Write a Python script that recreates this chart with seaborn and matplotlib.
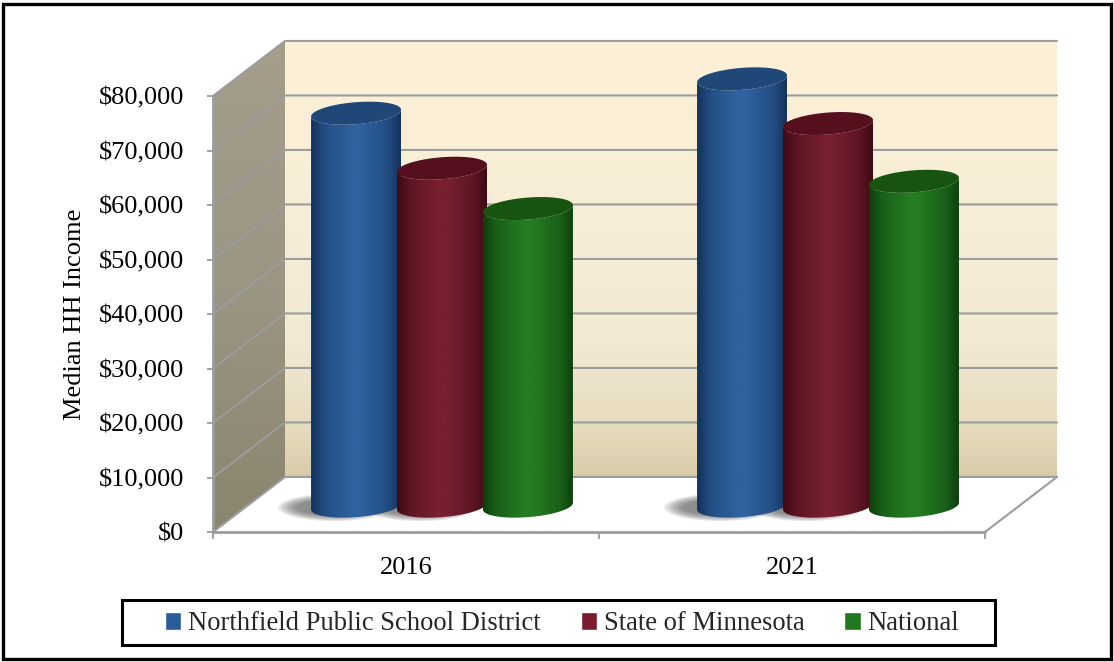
import numpy as np
import pandas as pd
import seaborn as sns
import matplotlib.pyplot as plt
from matplotlib.colors import LinearSegmentedColormap
from matplotlib.patches import Polygon, Rectangle, Ellipse

years = ['2016', '2021']
series_names = ['Northfield Public School District', 'State of Minnesota', 'National']
northfield = [72100, 78400]
minnesota = [62000, 70200]
national = [54600, 59600]
y_ticks = [0, 10000, 20000, 30000, 40000, 50000, 60000, 70000, 80000]
y_labels = ['$0', '$10,000', '$20,000', '$30,000', '$40,000', '$50,000', '$60,000', '$70,000', '$80,000']
legend_colors = ['#2B5C9A', '#7A1C2E', '#1F7A1F']
edge_colors = ['#14325A', '#3E0A14', '#0C400C']
side_colors = ['#234E84', '#5E1523', '#196018']
mid_colors = ['#2F629F', '#77202F', '#257C22']
top_colors = ['#1F4878', '#560F1C', '#17540F']

W, H = 1114, 662
sns.set_theme(style='white', font='Liberation Serif')

raw = pd.DataFrame({'Year': years, series_names[0]: northfield, series_names[1]: minnesota, series_names[2]: national})
data = pd.melt(raw, id_vars='Year', var_name='Series', value_name='Median HH Income')

fig = plt.figure(figsize=(W / 100, H / 100), dpi=100)
# front plane of the fake 3d box, in pixels
ax = fig.add_axes([213 / W, 1 - 532 / H, 772 / W, 436 / H])
sns.barplot(data=data, x='Year', y='Median HH Income', hue='Series', palette=legend_colors, saturation=1,
            width=0.668, ax=ax, zorder=1)

# depth of the box in data units
dx = 72 / 386
dy = 10100
grey = '#9C9C9C'

# back wall
wall_cmap = LinearSegmentedColormap.from_list('wall', [(0, '#D8CBA8'), (0.1, '#E6DABC'), (0.3, '#F1E9D2'),
                                                       (0.55, '#F6EDD8'), (1, '#FEF0D5')])
back = ax.imshow(np.linspace(0, 1, 256)[:, None], origin='lower', cmap=wall_cmap, aspect='auto', zorder=0.1,
                 extent=(-0.5 + dx, 1.5 + dx, dy, 80000 + dy))
back.set_clip_box(fig.bbox)

# left wall
side = Polygon([(-0.5, 0), (-0.5 + dx, dy), (-0.5 + dx, 80000 + dy), (-0.5, 80000)], closed=True,
               fc='none', ec='none', clip_on=False)
ax.add_patch(side)
side_cmap = LinearSegmentedColormap.from_list('side', ['#8B846E', '#9B9583', '#A69D8B'])
im = ax.imshow(np.linspace(0, 1, 256)[:, None], origin='lower', cmap=side_cmap, aspect='auto', zorder=0.1,
               extent=(-0.5, -0.5 + dx, 0, 80000 + dy))
im.set_clip_box(fig.bbox)
im.set_clip_path(side)

# grid lines and box edges
for v in y_ticks:
    ax.plot([-0.5, -0.5 + dx, 1.5 + dx], [v, v + dy, v + dy], color=grey, lw=1.5, zorder=0.3, clip_on=False)
ax.plot([1.5, 1.5 + dx], [0, dy], color=grey, lw=1.5, zorder=0.3, clip_on=False)
ax.plot([-0.5, 1.5], [0, 0], color=grey, lw=2, zorder=0.3, clip_on=False)
ax.plot([-0.5, -0.5], [0, 80000], color=grey, lw=2, zorder=0.3, clip_on=False)

# turn the bars into cylinders
half_w = 45 / 386
b = 11 / 54.5 * 10000
s = 3.4 / 54.5 * 10000
base = dy * 0.47
order = 1.0
for i, container in enumerate(ax.containers):
    shade = LinearSegmentedColormap.from_list('c', [(0, edge_colors[i]), (0.15, side_colors[i]), (0.45, mid_colors[i]),
                                                    (0.55, mid_colors[i]), (0.85, side_colors[i]),
                                                    (1, edge_colors[i])])
    for bar in container:
        bar.set_visible(False)
        cx = bar.get_x() + bar.get_width() / 2 + dx / 2
        top = base + bar.get_height()
        # soft shadow on the floor, to the left of the first two cylinders
        if i < 2:
            for k in range(7):
                ax.add_patch(Ellipse((cx - 22 / 386, base - 250), (112 - 6 * k) / 386, 5000 - 350 * k, fc='#3A3A3A',
                                     ec='none', alpha=0.11, zorder=0.5, clip_on=False))
        t = np.linspace(0, np.pi, 60)
        # lower rim left to right, then upper rim right to left
        low_x = cx - half_w * np.cos(t)
        low_y = base - b * np.sin(t) - s * np.cos(t)
        up_x = cx + half_w * np.cos(t)
        up_y = top - b * np.sin(t) + s * np.cos(t)
        body = Polygon(np.column_stack([np.r_[low_x, up_x], np.r_[low_y, up_y]]), closed=True, fc='none', ec='none',
                       clip_on=False)
        ax.add_patch(body)
        img = ax.imshow(np.linspace(0, 1, 128)[None, :], cmap=shade, aspect='auto', zorder=order,
                        extent=(cx - half_w, cx + half_w, base - 2 * b, top + 2 * b))
        img.set_clip_box(fig.bbox)
        img.set_clip_path(body)
        tt = np.linspace(0, 2 * np.pi, 120)
        ax.add_patch(Polygon(np.column_stack([cx + half_w * np.cos(tt), top + b * np.sin(tt) + s * np.cos(tt)]),
                             closed=True, fc=top_colors[i], ec='none', zorder=order + 0.1, clip_on=False))
        order += 0.2
ax.set_xlim(-0.5, 1.5)
ax.set_ylim(0, 80000)

sns.despine(ax=ax, left=True, bottom=True, right=True, top=True)
ax.set_yticks(y_ticks)
ax.set_yticklabels(y_labels, fontsize=19, color='black')
ax.set_xticks([-0.5, 0.5, 1.5], minor=True)
ax.set_xticks([0, 1])
ax.set_xticklabels(years, fontsize=19, color='black')
ax.tick_params(axis='y', length=4.5, width=1.3, color=grey, pad=16, left=True)
ax.tick_params(axis='x', which='major', length=0, pad=18)
ax.tick_params(axis='x', which='minor', length=5, width=1.3, color=grey, bottom=True)
ax.set_xlabel('')
ax.set_ylabel('Median HH Income', fontsize=19, color='black')
ax.yaxis.set_label_coords((86 - 213) / 772, (532 - 314) / 436)

sns.move_legend(ax, loc='center', bbox_to_anchor=(562 / W, 1 - 624 / H), bbox_transform=fig.transFigure,
                ncol=3, title=None, fontsize=19.2, frameon=False,
                handlelength=0.62, handleheight=0.62, handletextpad=0.25, columnspacing=1.5, borderpad=0.45)
ax.get_legend().set_zorder(10)

# legend box and outer frame of the picture
fig.add_artist(Rectangle((122 / W, 1 - 645 / H), 873 / W, 45 / H, transform=fig.transFigure, fc='none',
                         ec='black', lw=2.2))
fig.add_artist(Rectangle((3 / W, 3.5 / H), (W - 6) / W, (H - 7) / H, transform=fig.transFigure, fc='none',
                         ec='black', lw=2.4))

plt.savefig('out.png', dpi=100)
